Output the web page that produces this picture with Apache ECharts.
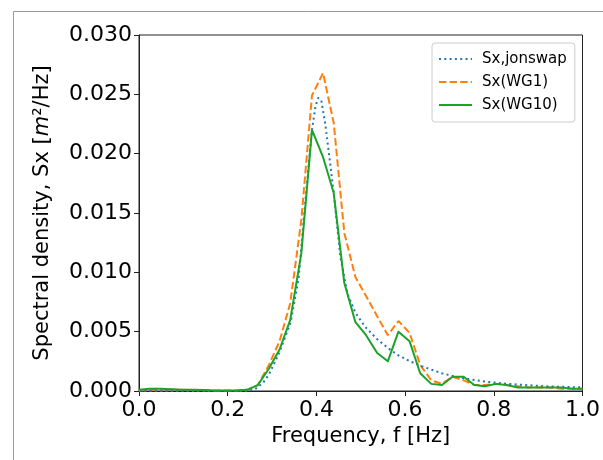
<!doctype html>
<html>
<head>
    <meta charset="utf-8">
    <title>spectral density</title>
    <script src="https://cdn.jsdelivr.net/npm/echarts@6/dist/echarts.min.js"></script>
    <style>
        html,body{margin:0;padding:0;background:#fff;}
        #chart{width:603px;height:460px;}
    </style>
</head>
<body>
    <div id="chart"></div>
    <script>
        // measured frequencies, step 1/41 Hz
        var freqs = [0.000, 0.024, 0.049, 0.073, 0.098, 0.122, 0.146, 0.171, 0.195, 0.220,
                     0.244, 0.268, 0.293, 0.317, 0.341, 0.366, 0.390, 0.415, 0.439, 0.463,
                     0.488, 0.512, 0.537, 0.561, 0.585, 0.610, 0.634, 0.659, 0.683, 0.707,
                     0.732, 0.756, 0.780, 0.805, 0.829, 0.854, 0.878, 0.902, 0.927, 0.951,
                     0.976, 1.000];
        var wg1 = [0.00005, 0.0001, 0.00015, 0.0001, 0.0001, 0.00008, 0.00006, 0.00005, 0.00005, 0.00005,
                   0.0001, 0.0005, 0.0022, 0.0042, 0.0074, 0.0144, 0.0249, 0.0268, 0.0226, 0.0133,
                   0.0096, 0.0080, 0.0063, 0.0047, 0.0059, 0.0049, 0.0022, 0.0009, 0.0006, 0.0012,
                   0.0009, 0.0005, 0.0005, 0.0006, 0.0005, 0.0004, 0.0003, 0.0003, 0.0003, 0.0002,
                   0.0002, 0.0002];
        var wg10 = [0.0001, 0.00018, 0.0002, 0.00015, 0.0001, 0.0001, 0.00008, 0.00005, 0.00005, 0.00005,
                    0.0001, 0.0005, 0.0019, 0.0035, 0.0060, 0.0116, 0.0220, 0.0197, 0.0167, 0.0091,
                    0.0058, 0.0047, 0.0032, 0.0025, 0.0050, 0.0042, 0.0015, 0.0006, 0.0005, 0.0012,
                    0.0012, 0.0005, 0.0004, 0.0006, 0.0005, 0.0003, 0.0003, 0.0003, 0.0003, 0.0003,
                    0.0002, 0.0002];
        // jonswap curve, read on a finer grid
        var jsFreqs = [0.00, 0.10, 0.20, 0.24, 0.26, 0.28, 0.293, 0.316, 0.342, 0.36, 0.372, 0.39,
                       0.398, 0.404, 0.411, 0.42, 0.43, 0.439, 0.454, 0.47, 0.488, 0.51, 0.536,
                       0.562, 0.585, 0.611, 0.637, 0.682, 0.727, 0.779, 0.832, 0.914, 1.00];
        var jonswap = [0, 0, 0, 0, 0.0001, 0.0007, 0.0014, 0.0032, 0.0058, 0.0095, 0.0147, 0.0220,
                       0.0240, 0.0247, 0.0245, 0.0225, 0.0195, 0.0167, 0.0113, 0.0082, 0.0066, 0.0054, 0.0044,
                       0.0036, 0.0030, 0.0025, 0.0021, 0.0015, 0.0011, 0.0008, 0.0006, 0.0004, 0.0003];
        var xTicks = [0, 0.2, 0.4, 0.6, 0.8, 1.0];
        var yTicks = [0, 0.005, 0.010, 0.015, 0.020, 0.025, 0.030];

        function pairs(xs, ys){
            var out = [];
            for (var i = 0; i < xs.length; i++) out.push([xs[i], ys[i]]);
            return out;
        }

        var font = 'DejaVu Sans';
        var axisColor = '#222';
        var chart = echarts.init(document.getElementById('chart'), null, {renderer: 'canvas'});
        var option = {
            backgroundColor: '#fff',
            animation: false,
            textStyle: {fontFamily: font},
            graphic: [{
                type: 'polyline',
                shape: {points: [[13.5, 460], [13.5, 11.5], [603, 11.5]]},
                style: {stroke: '#999', lineWidth: 1, fill: null}
            }],
            grid: {left: 139, right: 18, top: 35, bottom: 69, show: true, borderColor: axisColor, borderWidth: 1},
            legend: {
                orient: 'vertical',
                left: 432, top: 43,
                padding: [7, 8, 8, 6],
                itemGap: 5,
                itemWidth: 33, itemHeight: 14,
                itemStyle: {opacity: 0},
                backgroundColor: '#fff',
                borderColor: '#ccc', borderWidth: 1, borderRadius: 3,
                textStyle: {fontFamily: font, fontSize: 15, color: '#000', lineHeight: 18, padding: [0, 0, 0, 5]},
                data: ['Sx,jonswap', 'Sx(WG1)', 'Sx(WG10)']
            },
            xAxis: {
                type: 'value', min: 0, max: 1, interval: 0.2,
                name: 'Frequency, f [Hz]', nameLocation: 'middle', nameGap: 33,
                nameTextStyle: {fontFamily: font, fontSize: 21, color: '#000'},
                axisLine: {show: true, lineStyle: {color: axisColor, width: 1}},
                axisTick: {show: true, length: 5, inside: false, lineStyle: {color: axisColor}},
                axisLabel: {fontFamily: font, fontSize: 22, color: '#000', margin: 8,
                    formatter: function(v){ return xTicks.indexOf(+v.toFixed(1)) >= 0 ? v.toFixed(1) : ''; }},
                splitLine: {show: false}
            },
            yAxis: {
                type: 'value', min: 0, max: 0.03, interval: 0.005,
                name: 'Spectral density, Sx [{i|m}²/Hz]', nameLocation: 'middle', nameGap: 86, nameRotate: 90,
                nameTextStyle: {fontFamily: font, fontSize: 21, color: '#000',
                    rich: {
                        i: {fontFamily: font, fontSize: 21, fontStyle: 'italic', color: '#000'}
                    }},
                axisLine: {show: true, lineStyle: {color: axisColor, width: 1}},
                axisTick: {show: true, length: 5, inside: false, lineStyle: {color: axisColor}},
                axisLabel: {fontFamily: font, fontSize: 22, color: '#000', margin: 7,
                    formatter: function(v){ return yTicks.indexOf(+v.toFixed(3)) >= 0 ? v.toFixed(3) : ''; }},
                splitLine: {show: false}
            },
            series: [
                {
                    name: 'Sx,jonswap', type: 'line', symbol: 'none', z: 3,
                    color: '#1f77b4',
                    lineStyle: {color: '#1f77b4', width: 2, type: [2, 3.3], cap: 'butt'},
                    data: pairs(jsFreqs, jonswap)
                },
                {
                    name: 'Sx(WG1)', type: 'line', symbol: 'none', z: 2,
                    color: '#ff7f0e',
                    lineStyle: {color: '#ff7f0e', width: 2, type: [7.4, 3.2], cap: 'butt'},
                    data: pairs(freqs, wg1)
                },
                {
                    name: 'Sx(WG10)', type: 'line', symbol: 'none', z: 4,
                    color: '#1aa32a',
                    lineStyle: {color: '#1aa32a', width: 2, join: 'round'},
                    data: pairs(freqs, wg10)
                }
            ]
        };
        chart.setOption(option);
    </script>
</body>
</html>
